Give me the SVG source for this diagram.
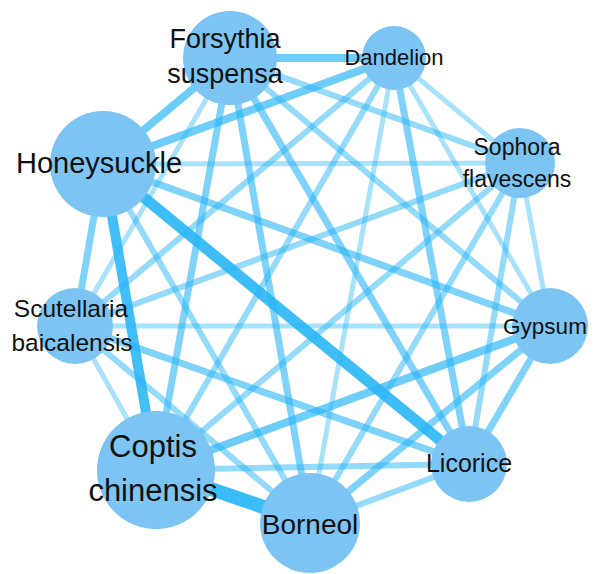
<svg xmlns="http://www.w3.org/2000/svg" width="594" height="574" viewBox="0 0 594 574">
<style>
.e{stroke:#29b6f6;fill:none}
.w1{stroke-width:5;stroke-opacity:.4}
.w2{stroke-width:6;stroke-opacity:.5}
.w3{stroke-width:7;stroke-opacity:.6}
.w4{stroke-width:8;stroke-opacity:.68}
.w5{stroke-width:10;stroke-opacity:.88}
.w6{stroke-width:11;stroke-opacity:.9}
.w7{stroke-width:14;stroke-opacity:.92}
.n{fill:#7cc4f4}
.t{font-family:"Liberation Sans",Arial,sans-serif;fill:#111;text-anchor:middle}
</style>
<rect width="594" height="574" fill="#fff"/>
<g id="connectors">
<line class="e w4" x1="103" y1="164" x2="230" y2="58"/>
<line class="e w4" x1="103" y1="164" x2="394" y2="58"/>
<line class="e w1" x1="103" y1="164" x2="520" y2="163"/>
<line class="e w3" x1="103" y1="164" x2="550" y2="326"/>
<line class="e w6" x1="103" y1="164" x2="469" y2="464"/>
<line class="e w2" x1="103" y1="164" x2="310" y2="523"/>
<line class="e w5" x1="103" y1="164" x2="156" y2="470"/>
<line class="e w3" x1="103" y1="164" x2="75" y2="326"/>
<line class="e w4" x1="230" y1="58" x2="394" y2="58"/>
<line class="e w2" x1="230" y1="58" x2="520" y2="163"/>
<line class="e w2" x1="230" y1="58" x2="550" y2="326"/>
<line class="e w3" x1="230" y1="58" x2="469" y2="464"/>
<line class="e w3" x1="230" y1="58" x2="310" y2="523"/>
<line class="e w3" x1="230" y1="58" x2="156" y2="470"/>
<line class="e w1" x1="230" y1="58" x2="75" y2="326"/>
<line class="e w1" x1="394" y1="58" x2="520" y2="163"/>
<line class="e w1" x1="394" y1="58" x2="550" y2="326"/>
<line class="e w3" x1="394" y1="58" x2="469" y2="464"/>
<line class="e w1" x1="394" y1="58" x2="310" y2="523"/>
<line class="e w2" x1="394" y1="58" x2="156" y2="470"/>
<line class="e w2" x1="394" y1="58" x2="75" y2="326"/>
<line class="e w1" x1="520" y1="163" x2="550" y2="326"/>
<line class="e w2" x1="520" y1="163" x2="469" y2="464"/>
<line class="e w2" x1="520" y1="163" x2="310" y2="523"/>
<line class="e w2" x1="520" y1="163" x2="156" y2="470"/>
<line class="e w2" x1="520" y1="163" x2="75" y2="326"/>
<line class="e w3" x1="550" y1="326" x2="469" y2="464"/>
<line class="e w3" x1="550" y1="326" x2="310" y2="523"/>
<line class="e w4" x1="550" y1="326" x2="156" y2="470"/>
<line class="e w1" x1="550" y1="326" x2="75" y2="326"/>
<line class="e w2" x1="469" y1="464" x2="310" y2="523"/>
<line class="e w2" x1="469" y1="464" x2="156" y2="470"/>
<line class="e w3" x1="469" y1="464" x2="75" y2="326"/>
<line class="e w7" x1="310" y1="523" x2="156" y2="470"/>
<line class="e w2" x1="310" y1="523" x2="75" y2="326"/>
<line class="e w1" x1="156" y1="470" x2="75" y2="326"/>
</g>
<g id="node-honeysuckle"><circle class="n" cx="103" cy="164" r="53"/><text class="t" x="99" y="173" font-size="29">Honeysuckle</text></g>
<g id="node-forsythia"><circle class="n" cx="230" cy="58" r="47"/><text class="t" x="225" y="48" font-size="27">Forsythia</text><text class="t" x="225" y="83" font-size="27">suspensa</text></g>
<g id="node-dandelion"><circle class="n" cx="394" cy="58" r="32"/><text class="t" x="394" y="65" font-size="22">Dandelion</text></g>
<g id="node-sophora"><circle class="n" cx="520" cy="163" r="35"/><text class="t" x="517" y="155" font-size="23">Sophora</text><text class="t" x="517" y="187" font-size="23">flavescens</text></g>
<g id="node-gypsum"><circle class="n" cx="550" cy="326" r="38"/><text class="t" x="545" y="334" font-size="22.5">Gypsum</text></g>
<g id="node-licorice"><circle class="n" cx="469" cy="464" r="38"/><text class="t" x="469" y="472" font-size="25">Licorice</text></g>
<g id="node-borneol"><circle class="n" cx="310" cy="523" r="50"/><text class="t" x="310" y="534" font-size="28">Borneol</text></g>
<g id="node-coptis"><circle class="n" cx="156" cy="470" r="59"/><text class="t" x="153" y="457" font-size="31">Coptis</text><text class="t" x="153" y="501" font-size="31">chinensis</text></g>
<g id="node-scutellaria"><circle class="n" cx="75" cy="326" r="38"/><text class="t" x="71" y="317" font-size="24.5">Scutellaria</text><text class="t" x="72" y="351" font-size="24.5">baicalensis</text></g>
</svg>
